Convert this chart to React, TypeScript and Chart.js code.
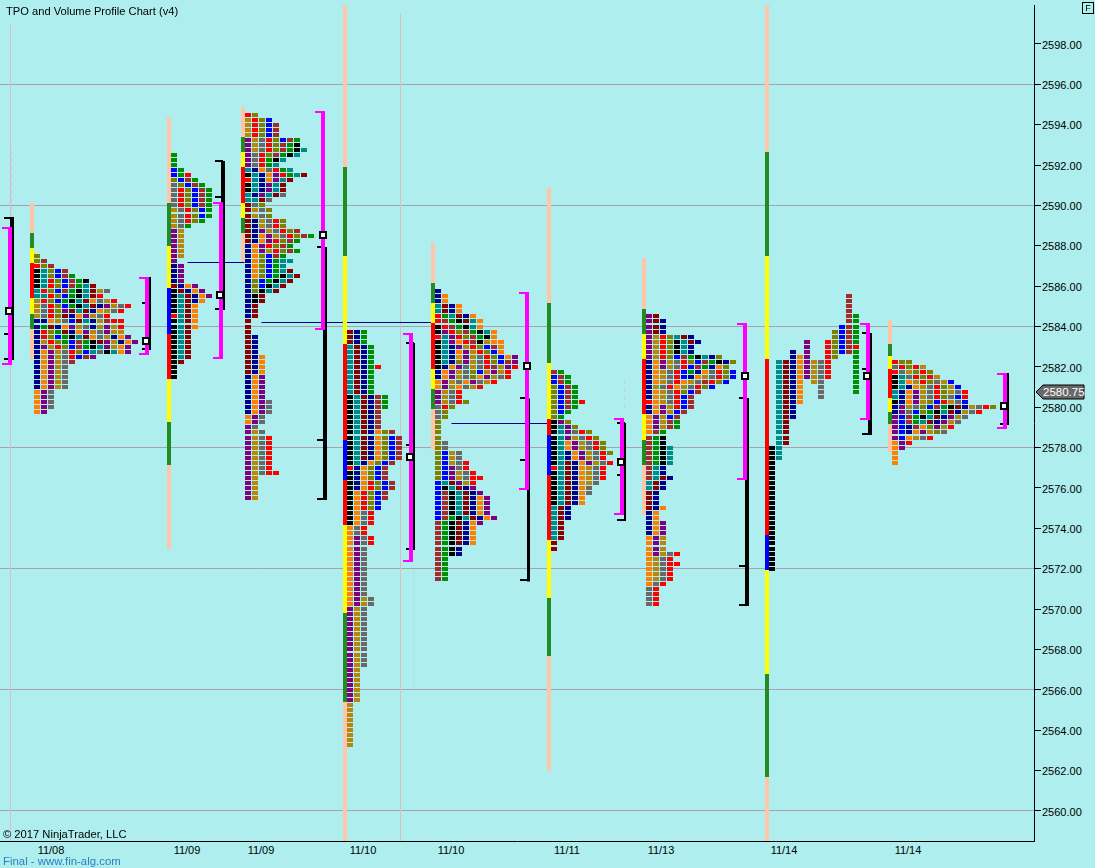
import React, { useEffect, useRef } from "react";
import { Chart, registerables } from "chart.js";

Chart.register(...registerables);

// ---------- axis data ----------
const priceMax = 2599.93;
const priceMin = 2558.51;
const slotMax = 1034;
const dateLabels = ["11/08", "11/09", "11/09", "11/10", "11/10", "11/11", "11/13", "11/14", "11/14"];
const dateSlots = [51, 187, 261, 363, 451, 567, 661, 784, 908];
const lastPrice = 2580.75;

// ---------- TPO profiles: one string per 0.25 price row, one letter per period ----------
const profileSlots = [34, 171, 245, 347, 435, 551, 646, 769, 892];
const profileTops = [2587.5, 2592.5, 2594.5, 2583.75, 2585.75, 2581.75, 2584.5, 2585.5, 2582.25];

const profile1 = [
  "O", "OB", "rOB", "ktObB", "ktObBg", "ktrObBgk", "ktrObBgtm", "trObBgktmyG", "ttrObgktmr", "yrObgktmoGyr",
  "yGrObgktmnuyGr", "yGrOumtmnoyGr", "yGrOmnouyGr", "nnoyGbmtnyBrr", "ngmnouyGnyuyr", "nrOgmnouyGuyy",
  "nrObgktmoGynou", "nyrOgbBgkmuynou", "nuyrObBgktuyou", "nouyGrObtGktou", "nouyGrbBu", "nouyGB",
  "nouyG", "nouyG", "nouyG", "nouyG", "nouyG", "ouG", "ouG", "ouG", "ouG", "ou",
];
const profile2 = [
  "g", "g", "g", "bg", "bgr", "ObBg", "GObBg", "GrObBg", "GrObBg", "GrObBg", "GrObBg", "yGrObg", "yGrObg", "yGrOg", "yGg",
  "uy", "uy", "uy", "uy", "uy", "uy", "u", "nu", "nu", "nu", "nu", "mnou", "kmnou", "ktmnou", "ktmno",
  "ktmo", "ktmo", "rtmo", "ktmo", "ktmo", "ktm", "ktm", "ktm", "ktm", "ktm", "ktm", "km", "k", "k", "k",
];
const profile3 = [
  "rO", "yrOb", "yrObB", "yrObB", "yrObB", "uyGrObBg", "uyGrOBgk", "uyGrOBgkt", "uGrOBgkt", "uGrgkt", "uGrgt", "tnoGrgt",
  "ktnourgtm", "rtnoutm", "ktnutm", "ktnutm", "tnutmG", "ttmG", "mGO", "myGO", "myGO", "mnyGrO", "mnyGrO", "mnuyGrOB",
  "mnouyGrOBg", "mnourOBg", "nourOBg", "nouyrOBg", "noObBg", "noObgtt", "noObgt", "noObgtm", "noObgktm", "nObgktm",
  "nObktm", "nOktm", "nkm", "nkm", "nm", "nm", "nm", "m", "m", "m", "mn", "mn", "mn", "mn", "mno", "mno", "mno", "mno",
  "nou", "nou", "nou", "nou", "nou", "nouG", "nouG", "nouG", "ouG", "ouG", "uG", "uyG",
  "uyGr", "uyGr", "uyGr", "uyGr", "uyGr", "uyGr", "uyGr", "uyGrr", "uy", "uy", "uy", "uy", "uy",
];
const profile4 = [
  "mng", "mng", "mng", "tmng", "tmng", "tmng", "tmng", "tmngr", "tmng", "tmng", "tmng", "tmng", "tmng",
  "ktmnBg", "ktmnBg", "ktmnBg", "ktmnB", "ktmnB", "ktmnB", "ktmnB", "ktmnoOB", "ktmnoObB", "ktmnoObB", "ktmnoObB", "ktmnoObB", "ktmnoObB",
  "ktnoObB", "rnoObB", "knoObB", "knoObB", "knorObB", "knorObB", "korObB", "korObB", "korOb", "korOb", "koGr", "koGr", "koGr",
  "oGr", "oGr", "ouGr", "ouGr", "ouG", "ouG", "ouG", "ouG", "ouG", "ouG", "ouG", "ouG", "ouG", "ouG", "ouyG", "ouyG",
  "uyG", "uyG", "uyG", "uyG", "uyG", "uyG", "uyG", "uyG", "uyG", "uyG", "uyG", "uyG",
  "uy", "uy", "uy", "uy", "uy", "uy", "uy", "y", "y", "y", "y", "y", "y", "y", "y", "y",
];
const profile5 = [
  "n", "no", "no", "tmno", "tmno", "rgtmno", "rBgkmto", "krBgkto", "kurOBgkto", "rturOBgko", "ktuorBkyoo", "ktnuyrObBo",
  "ktnouyrObo", "ktnouyGrObou", "ktnOuyGrObBu", "knouGyGrByur", "nouyGObyuyr", "nouyGOouyGr", "ouyGouGyr", "ouyoGyr",
  "uyGr", "uyGr", "uyGrO", "GrO", "GO", "GO", "O", "O", "O", "O", "OG", "OG", "ObyG", "ObyG", "ObyGr", "ObuGr", "ObuyGr", "ObuyGrr",
  "btmuyr", "bktmnu", "bBktmnu", "bBktmnou", "bBktmnou", "bBktmnou", "bBktmnou", "bBgktmnou", "Bgkmnou", "Bgkmno", "Bgkmno", "Bgkmno", "Bgkmno",
  "Bgkn", "Bgkn", "Bg", "Bg", "Bg", "Bg", "Bg",
];
const profile6 = [
  "Bg", "bBg", "bBg", "ObBg", "ObBg", "ObBg", "ObBgr", "ObBg", "Obg", "Og", "kuO", "ktuO", "ktuGrO", "ktuyGrO", "ktouyGrO", "ktouyGrO",
  "ktnouyGrO", "ktnouyGr", "ktmnouyGr", "rtmnoyGr", "ktmnoyGr", "ktmnoyGr", "ktmnoyG", "ktmnoG", "ktmnoG", "ktmno", "ktmno",
  "tmn", "tmn", "tmn", "tm", "tm", "tm", "tm", "m", "m",
];
const profile7 = [
  "um", "umn", "umn", "umn", "uyrOtmn", "uyrOktmn", "uyrOktn", "uyrOktn", "uyrObBgktnO", "nouyGrObBgknO", "nouyGrbBgnoO",
  "noyGrbgnoGrOb", "noyGrbnoyGrOb", "noyGroyGBrOb", "nyGroyGrOb", "noyGrObB", "noyGrbB", "royGrbB", "nouyrbB", "nouybB", "ouybB", "ouyBg", "ouyBg",
  "oBg", "Bgk", "Bgk", "Bgkt", "Bgkt", "Bgkt", "Bgkt", "Btn", "Btn", "Btmn", "tmn", "tmn", "mn", "mn", "mn", "mno", "no", "no",
  "nou", "nou", "nou", "ouy", "ouy", "ouy", "ouyGr", "oyGr", "oyGrr", "oyGr", "oyGr", "oyGr", "oGr", "Gr", "Gr", "Gr", "Gr",
];
const profile8 = [
  "...........B", "...........B", "...........B", "...........B", "...........Bg", "...........Bg", "..........bBg", ".........ObBg", ".........ObBg",
  ".....u..rObBg", ".....u..rObBr", "...n.u..rObBg", "...nou..rO..g", ".tmnouyGr...g", ".tmnouyGr...g", ".tmnouyGr...g", ".tmnouyGr...g",
  ".tmno.yG....g", ".tmno..G....g", ".tmno..G....g", ".tmno..G", ".tmno", ".tmn", ".tmn", ".tmn", ".tm", ".tm", ".tm", ".tm", ".tm", "kt", "kt", "kt",
  "k", "k", "k", "k", "k", "k", "k", "k", "k", "k", "k", "k", "k", "k", "k", "k", "k", "k", "k", "k", "k", "k",
];
const profile9 = [
  "rOO", "GrOry", "rGyOrO", "ktGrOry", "ktoyrOGyb", "ktnoyGrOyb", "tnouyGrOyGr", "tnouyGrOGbr", "knouyObryGb", "nuyGObBgkmnyGrO", "nuGbOgktmnyGr",
  "ubBgktmnuyG", "ubBgtmnuyG", "ubnBoOuyr", "ubnouyOG", "uboyGr", "our", "ou", "o", "o", "o",
];
const profiles = [profile1, profile2, profile3, profile4, profile5, profile6, profile7, profile8, profile9];

// ---------- split-range columns beside each profile ----------
const columnSlots = [32, 169, 243, 345, 433, 549, 644, 767, 890];
const columnBreaks = [
  [2590.12, 2588.64, 2587.89, 2587.15, 2585.42, 2584.62, 2583.88, 2582.39],
  [2594.38, 2590.12, 2587.99, 2585.91, 2583.63, 2581.4, 2579.27, 2577.14, 2572.98],
  [2594.88, 2593.39, 2592.65, 2591.91, 2590.12, 2589.38, 2588.64, 2587.2],
  [2599.93, 2591.91, 2587.5, 2583.14, 2578.38, 2576.4, 2574.17, 2569.81, 2565.4, 2558.51],
  [2588.14, 2586.16, 2585.17, 2584.18, 2581.9, 2580.91, 2579.92, 2577.89],
  [2590.87, 2585.17, 2582.2, 2579.42, 2578.63, 2576.65, 2573.43, 2570.55, 2567.68, 2561.98],
  [2587.4, 2584.87, 2583.63, 2582.39, 2579.67, 2578.38, 2577.14, 2574.66],
  [2599.93, 2592.65, 2587.5, 2582.39, 2573.67, 2571.94, 2566.79, 2561.68, 2558.51],
  [2584.33, 2583.14, 2582.54, 2581.9, 2580.46, 2579.77, 2579.17, 2577.79],
];
const columnKinds = ["pgyrygp", "pgybrygp", "pgyrygp", "pgyrbrygp", "pgyrygp", "pgyrbrygp", "pgyrygp", "pgyrbygp", "pgyrygp"];

// ---------- value-area (magenta) and range (black) brackets ----------
const valueSlots = [10, 147, 221, 323, 411, 527, 622, 745, 868, 1005];
const valueTops = [2588.93, 2586.46, 2590.17, 2594.68, 2583.68, 2585.71, 2579.47, 2584.18, 2584.18, 2581.7];
const valueBottoms = [2582.1, 2582.59, 2582.39, 2583.83, 2572.34, 2575.9, 2574.66, 2576.4, 2579.37, 2578.93];

const rangeSlots = [12, 150, 223, 325, 414, 528, 625, 747, 870, 1008];
const rangeTops = [2589.43, 2586.46, 2592.2, 2587.94, 2583.19, 2580.46, 2579.22, 2580.46, 2583.68, 2581.7];
const rangeBottoms = [2582.34, 2582.84, 2584.82, 2575.41, 2572.93, 2571.4, 2574.37, 2570.16, 2578.63, 2579.12];
const rangeMarks = [
  [2589.38, 2583.63, 2582.39],
  [2585.17, 2582.89],
  [2592.2, 2590.42, 2584.87],
  [2587.94, 2578.38, 2575.46],
  [2583.19, 2578.13, 2572.98],
  [2580.46, 2577.39, 2571.45],
  [2579.22, 2576.65, 2574.42],
  [2580.46, 2572.14, 2570.21],
  [2583.68, 2581.9, 2578.68],
  [2579.17],
];

// ---------- close markers, naked-POC lines, faint wicks, session lines ----------
const closeSlots = [9, 146, 220, 323, 410, 527, 621, 745, 867, 1004];
const closePrices = [2584.77, 2583.29, 2585.56, 2588.54, 2577.54, 2582.05, 2577.29, 2581.55, 2581.55, 2580.07];

const pocStarts = [187, 261, 451];
const pocEnds = [244, 435, 548];
const pocPrices = [2587.2, 2584.23, 2579.22];

const wickSlots = [11, 413, 624];
const wickTops = [2592.75, 2571.94, 2581.35];
const wickBottoms = [2589.43, 2565.99, 2579.97];

const sessionLineSlots = [10, 400];
const sessionLineTops = [2599.0, 2599.53];

// ---------- styling ----------
const BG = "#AFEEEE";
const FONT = '"Liberation Sans", Arial, sans-serif';
const cellColors: Record<string, string> = {
  k: "#000000", t: "#008B8B", n: "#00008B", m: "#8B0000", r: "#FF0000", o: "#FF7F00", g: "#008F00",
  b: "#0000FF", B: "#A52A2A", u: "#800080", G: "#696969", y: "#B8860B", O: "#808000",
};
const columnColors: Record<string, string> = {
  p: "#FFC5A8", g: "#228B22", y: "#FFFF00", r: "#FF0000", b: "#0000FF",
};
const COL_STEP = 7;

function cellSprite(color: string) {
  const c = document.createElement("canvas");
  c.width = 6;
  c.height = 4;
  const x = c.getContext("2d")!;
  x.fillStyle = color;
  x.fillRect(0, 0, 6, 4);
  return c;
}
function closeSprite() {
  const c = document.createElement("canvas");
  c.width = 8;
  c.height = 8;
  const x = c.getContext("2d")!;
  x.fillStyle = "#000";
  x.fillRect(0, 0, 8, 8);
  x.fillStyle = "#fff";
  x.fillRect(2, 2, 4, 4);
  return c;
}

function seg(x1: number, y1: number, x2: number, y2: number, color: string, width: number, order: number, dash?: number[]) {
  return {
    type: "scatter",
    showLine: true,
    data: [{ x: x1, y: y1 }, { x: x2, y: y2 }],
    borderColor: color,
    borderWidth: width,
    borderDash: dash || [],
    borderCapStyle: "butt",
    pointRadius: 0,
    order,
    snapOdd: width % 2 === 1,
  };
}

function buildDatasets() {
  const ds: any[] = [];
  sessionLineSlots.forEach((x, i) => ds.push(seg(x, sessionLineTops[i], x, priceMin, "#D8BFBC", 1, 20)));
  wickSlots.forEach((x, i) => ds.push(seg(x, wickTops[i], x, wickBottoms[i], "#C4CCF0", 1, 19, [4, 4])));
  pocPrices.forEach((p, i) => ds.push(seg(pocStarts[i], p, pocEnds[i], p, "#00008B", 1, 12)));
  const byColor: Record<string, { x: number; y: number }[]> = {};
  profiles.forEach((rows, pi) => {
    rows.forEach((row, ri) => {
      row.split("").forEach((ch, ci) => {
        if (!cellColors[ch]) return;
        (byColor[ch] = byColor[ch] || []).push({
          x: profileSlots[pi] + ci * COL_STEP + 3,
          y: profileTops[pi] - ri * 0.25,
        });
      });
    });
  });
  Object.keys(byColor).forEach((ch) => {
    ds.push({
      type: "scatter",
      label: "TPO " + ch,
      data: byColor[ch],
      pointStyle: cellSprite(cellColors[ch]),
      pointRadius: 3,
      showLine: false,
      order: 10,
    });
  });
  columnBreaks.forEach((breaks, i) => {
    const kinds = columnKinds[i];
    kinds.split("").forEach((k, j) => {
      ds.push(seg(columnSlots[i], breaks[j], columnSlots[i], breaks[j + 1], columnColors[k], 4, 9));
    });
  });
  const rangeWidths = [4, 2, 4, 4, 2, 3, 2, 4, 4, 2];
  rangeSlots.forEach((x, i) => {
    ds.push(seg(x, rangeTops[i], x, rangeBottoms[i], "#000", rangeWidths[i], 6));
    rangeMarks[i].forEach((p) => ds.push(seg(x - 8, p, x, p, "#000", 2, 6)));
  });
  valueSlots.forEach((x, i) => {
    ds.push(seg(x, valueTops[i], x, valueBottoms[i], "#FF00FF", 4, 4));
    ds.push(seg(x - 8, valueTops[i] - 0.05, x, valueTops[i] - 0.05, "#FF00FF", 2, 4));
    ds.push(seg(x - 8, valueBottoms[i] + 0.05, x, valueBottoms[i] + 0.05, "#FF00FF", 2, 4));
  });
  ds.push({
    type: "scatter",
    label: "Close",
    data: closeSlots.map((x, i) => ({ x, y: closePrices[i] })),
    pointStyle: closeSprite(),
    pointRadius: 4,
    showLine: false,
    order: 1,
  });
  return ds;
}

const snapPlugin = {
  id: "snap",
  afterDatasetsUpdate(chart: any) {
    chart.data.datasets.forEach((d: any, i: number) => {
      const off = d.snapOdd ? 0.5 : 0;
      chart.getDatasetMeta(i).data.forEach((el: any) => {
        el.x = Math.round(el.x) + off;
        el.y = Math.round(el.y) + off;
      });
    });
  },
};

const backgroundPlugin = {
  id: "bg",
  beforeDraw(chart: any) {
    const { ctx, width, height } = chart;
    ctx.save();
    ctx.fillStyle = BG;
    ctx.fillRect(0, 0, width, height);
    ctx.restore();
  },
};

const priceTagPlugin = {
  id: "priceTag",
  afterDraw(chart: any) {
    const { ctx, scales } = chart;
    const y = Math.round(scales.y.getPixelForValue(lastPrice));
    ctx.save();
    ctx.beginPath();
    ctx.moveTo(1036, y);
    ctx.lineTo(1043, y - 7);
    ctx.lineTo(1084, y - 7);
    ctx.lineTo(1084, y + 7);
    ctx.lineTo(1043, y + 7);
    ctx.closePath();
    ctx.fillStyle = "#696969";
    ctx.fill();
    ctx.strokeStyle = "#000";
    ctx.lineWidth = 1;
    ctx.stroke();
    ctx.fillStyle = "#fff";
    ctx.font = "11.5px " + FONT;
    ctx.textBaseline = "middle";
    ctx.textAlign = "left";
    ctx.fillText(lastPrice.toFixed(2), 1043, y + 0.5);
    ctx.restore();
  },
};

export default function App() {
  const ref = useRef<HTMLCanvasElement>(null);
  useEffect(() => {
    document.body.style.margin = "0";
    document.body.style.background = BG;
    const canvas = ref.current!;
    canvas.getContext("2d", { alpha: false });
    const chart = new Chart(canvas, {
      type: "scatter",
      data: { datasets: buildDatasets() },
      plugins: [backgroundPlugin, snapPlugin, priceTagPlugin],
      options: {
        responsive: false,
        animation: false,
        devicePixelRatio: 1,
        events: [],
        layout: { autoPadding: false, padding: { top: 5, left: 0, right: 0, bottom: 0 } },
        plugins: { legend: { display: false }, tooltip: { enabled: false }, title: { display: false } },
        scales: {
          x: {
            type: "linear",
            min: 0,
            max: slotMax,
            grid: { display: false, drawTicks: false },
            border: { display: true, color: "#000", width: 1 },
            afterBuildTicks: (s: any) => {
              s.ticks = dateSlots.map((v) => ({ value: v }));
            },
            afterFit: (s: any) => {
              s.height = 27;
              s.paddingLeft = 0;
              s.paddingRight = 0;
            },
            ticks: {
              autoSkip: false,
              maxRotation: 0,
              padding: 3,
              color: "#000",
              font: { family: FONT, size: 11 },
              callback: (_v: any, i: number) => dateLabels[i],
            },
          },
          y: {
            type: "linear",
            position: "right",
            min: priceMin,
            max: priceMax,
            afterFit: (s: any) => {
              s.width = 61;
              s.paddingTop = 0;
              s.paddingBottom = 0;
            },
            border: { display: true, color: "#000", width: 1 },
            grid: {
              color: (c: any) => (c.tick && (Math.round(c.tick.value) - 2560) % 6 === 0 ? "#A8A2A6" : "rgba(0,0,0,0)"),
              tickColor: "#000",
              tickLength: 7,
              lineWidth: 1,
            },
            ticks: {
              stepSize: 2,
              includeBounds: false,
              padding: 1,
              color: "#000",
              font: { family: FONT, size: 11, lineHeight: 0.3 },
              callback: (v: any) => ["", Number(v).toFixed(2)],
            },
          },
        },
      } as any,
    } as any);
    return () => chart.destroy();
  }, []);

  const label: React.CSSProperties = {
    position: "absolute",
    font: "11px " + FONT,
    color: "#000",
    whiteSpace: "nowrap",
    lineHeight: "13px",
  };
  return (
    <div style={{ position: "relative", width: 1095, height: 868, background: BG, overflow: "hidden" }}>
      <canvas ref={ref} width={1095} height={868} style={{ display: "block" }} />
      <div style={{ ...label, left: 6, top: 5, fontSize: 11.15 }}>TPO and Volume Profile Chart (v4)</div>
      <div style={{ ...label, left: 3, top: 828, fontSize: 11.2 }}>© 2017 NinjaTrader, LLC</div>
      <div style={{ ...label, left: 3, top: 855, color: "#2F7FBF", fontSize: 11.4 }}>Final - www.fin-alg.com</div>
      <div style={{ ...label, left: 1082, top: 2, width: 10, height: 10, border: "1px solid #000", textAlign: "center", fontSize: 9, lineHeight: "10px" }}>F</div>
    </div>
  );
}
